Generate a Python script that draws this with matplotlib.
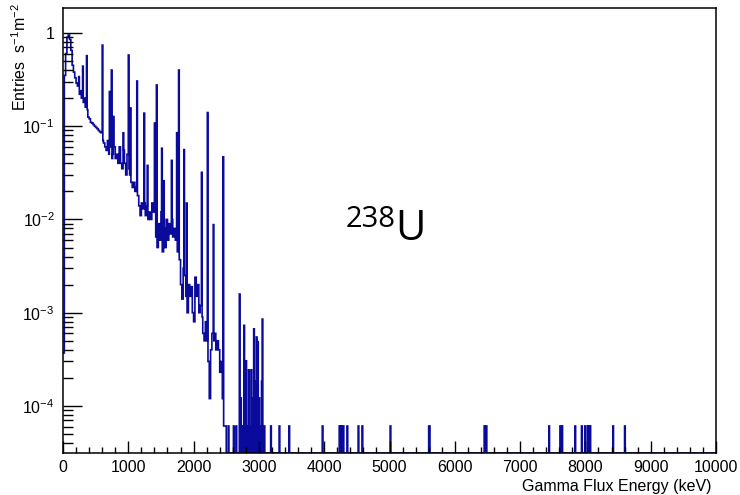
import numpy as np
import matplotlib
matplotlib.use("Agg")
import matplotlib.pyplot as plt
from matplotlib.ticker import MultipleLocator, LogLocator, FixedLocator, FixedFormatter

plt.rcParams['font.family'] = ['Liberation Sans', 'DejaVu Sans']
plt.rcParams['mathtext.fontset'] = 'custom'
plt.rcParams['mathtext.rm'] = 'Liberation Sans'
plt.rcParams['mathtext.it'] = 'Liberation Sans:italic'

# continuum, one value per 20 keV from 0 to 2500 keV (Entries s^-1 m^-2)
cont_value = [
    3.7e-4, 0.35, 0.6, 0.9, 0.95, 0.85, 0.65, 0.45, 0.38, 0.33,          # 0-180
    0.29, 0.27, 0.22, 0.24, 0.2, 0.18, 0.2, 0.16, 0.15, 0.125,           # 200-380
    0.12, 0.11, 0.108, 0.104, 0.1, 0.097, 0.094, 0.09, 0.087, 0.085,     # 400-580
    0.07, 0.066, 0.06, 0.055, 0.07, 0.05, 0.06, 0.045, 0.05, 0.06,       # 600-780
    0.045, 0.05, 0.04, 0.06, 0.04, 0.035, 0.055, 0.04, 0.03, 0.05,       # 800-980
    0.035, 0.03, 0.025, 0.022, 0.025, 0.02, 0.022, 0.018, 0.014, 0.011,  # 1000-1180
    0.015, 0.013, 0.015, 0.011, 0.014, 0.01, 0.012, 0.01, 0.015, 0.012,  # 1200-1380
    0.012, 0.0065, 0.005, 0.009, 0.006, 0.012, 0.0045, 0.008, 0.005, 0.01,  # 1400-1580
    0.006, 0.009, 0.007, 0.01, 0.0065, 0.008, 0.006, 0.0045, 0.005, 0.0037,  # 1600-1780
    0.002, 0.0014, 0.003, 0.0025, 0.0015, 0.001, 0.002, 0.0015, 0.0019, 0.001,  # 1800-1980
    0.0008, 0.0024, 0.0015, 0.002, 0.001, 0.0012, 0.0009, 0.0006, 0.0005, 0.0008,  # 2000-2180
    0.0005, 0.0003, 0.00012, 0.0004, 0.0006, 0.0005, 0.0006, 0.0004, 0.0005, 0.0004,  # 2200-2380
    0.00023, 0.0003, 0.00012, 6.1e-5, 6.1e-5,                           # 2400-2480
]

# gamma lines (keV, peak height)
peak_energy = [245, 300, 360, 607, 710, 745, 770, 925, 1000, 1035, 1135, 1240,
               1290, 1400, 1430, 1515, 1545, 1665, 1740, 1775, 1850, 1890,
               2120, 2215, 2300, 2455]
peak_value = [0.34, 0.44, 0.57, 0.74, 0.235, 0.40, 0.127, 0.085, 0.58, 0.157, 0.305, 0.138,
              0.038, 0.108, 0.277, 0.058, 0.026, 0.043, 0.085, 0.40, 0.056, 0.015,
              0.032, 0.14, 0.0088, 0.047]

# sparse high-energy bins (keV, number of entries)
tail_energy = [2530, 2610, 2650, 2700, 2720, 2740, 2760, 2775, 2800, 2820, 2840, 2860,
               2880, 2900, 2925, 2945, 2960, 2980, 3000, 3020, 3040, 3058, 3070, 3085,
               3180, 3310, 3465, 3975, 4235, 4250, 4265, 4280, 4295, 4355, 4520, 4585,
               5010, 5600, 5615, 6455, 6470, 6488, 7440, 7610, 7625, 7645, 7840, 7945,
               7995, 8030, 8050, 8070, 8420, 8605]
tail_counts = [1, 1, 1, 26, 2, 1, 1, 12, 5, 1, 4, 1,
               4, 2, 11, 3, 9, 8, 2, 1, 3, 14, 1, 1,
               1, 1, 1, 1, 1, 1, 1, 1, 1, 1, 1, 1,
               1, 1, 1, 1, 1, 1, 1, 1, 1, 1, 1, 1,
               1, 1, 1, 1, 1, 1]
count_unit = 6.1e-5

ymin, ymax = 3.13e-5, 1.85

edges = np.arange(0, 10001, 10)
values = np.zeros(len(edges) - 1)
for i, v in enumerate(cont_value):
    values[2 * i:2 * i + 2] = v
for e, v in zip(peak_energy, peak_value):
    k = e // 10
    values[k] = max(values[k], v)
for e, n in zip(tail_energy, tail_counts):
    values[e // 10] += n * count_unit
values[values == 0] = ymin

fig = plt.figure(figsize=(7.4, 4.95), dpi=100)
ax = fig.add_axes([63 / 740, 42 / 495, 653 / 740, 445 / 495])

ax.stairs(values, edges, color='#0a0a9c', lw=1.2, baseline=None)

ax.set_yscale('log')
ax.set_xlim(0, 10000)
ax.set_ylim(ymin, ymax)

ax.xaxis.set_major_locator(MultipleLocator(1000))
ax.xaxis.set_minor_locator(MultipleLocator(200))
ax.yaxis.set_major_locator(FixedLocator([1e-4, 1e-3, 1e-2, 1e-1, 1]))
ax.yaxis.set_major_formatter(FixedFormatter([r'$\mathdefault{10^{-4}}$', r'$\mathdefault{10^{-3}}$',
                                             r'$\mathdefault{10^{-2}}$', r'$\mathdefault{10^{-1}}$', '1']))
ax.yaxis.set_minor_locator(LogLocator(base=10, subs=np.arange(2, 10), numticks=20))
ax.yaxis.set_minor_formatter(FixedFormatter([]))

ax.tick_params(axis='both', which='both', direction='in', top=False, right=False,
               labelsize=11.5, colors='black')
ax.tick_params(axis='y', which='major', length=14, width=1.0, pad=6)
ax.tick_params(axis='y', which='minor', length=7, width=1.0)
ax.tick_params(axis='x', which='major', length=9, width=1.0, pad=5)
ax.tick_params(axis='x', which='minor', length=4.5, width=1.0)
for s in ax.spines.values():
    s.set_linewidth(1.1)
    s.set_zorder(3)

fig.text(712 / 740, 1 - 486 / 495, 'Gamma Flux Energy (keV)', ha='right', va='center', fontsize=11.5)
ax.text(-0.066, 1.01, r'Entries  s$^{\mathdefault{-1}}$m$^{\mathdefault{-2}}$', rotation=90,
        transform=ax.transAxes, ha='center', va='top', fontsize=11.5)

fig.text(346 / 740, 1 - 227 / 495, '238', ha='left', va='baseline', fontsize=21,
         family='Open Sans')
fig.text(395 / 740, 1 - 240 / 495, 'U', ha='left', va='baseline', fontsize=30,
         family='Open Sans')

fig.savefig('out.png', dpi=100)
